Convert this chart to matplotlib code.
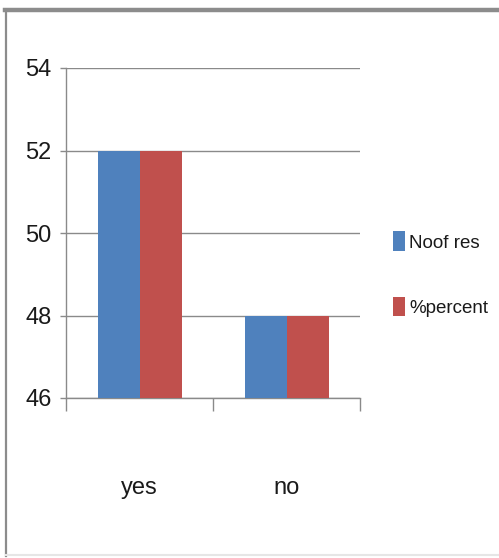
import matplotlib
matplotlib.use("Agg")
import matplotlib.pyplot as plt
from matplotlib.patches import Patch
from matplotlib.lines import Line2D
import numpy as np

plt.rcParams['font.family'] = ['Liberation Sans Narrow', 'Liberation Sans', 'DejaVu Sans']

categories = ["yes", "no"]
series_names = ["Noof res", "%percent"]
no_of_res = [52, 48]
percent = [52, 48]
y_ticks = [46, 48, 50, 52, 54]

BLUE = "#4F81BD"
RED = "#C0504D"
GRID = "#8a8a8a"
TEXT = "#1a1a1a"

W, H = 499, 558
fig = plt.figure(figsize=(W / 100, H / 100), dpi=100)

# plot area in pixel coordinates
left, right, top, bottom = 66, 360, 68, 398
ax = fig.add_axes([left / W, 1 - bottom / H, (right - left) / W, (bottom - top) / H])

x = np.arange(len(categories)) + 0.5
bw = 1 / 3.5
ax.bar(x - bw / 2, no_of_res, width=bw, color=BLUE, zorder=3)
ax.bar(x + bw / 2, percent, width=bw, color=RED, zorder=3)

ax.set_xlim(0, len(categories))
ax.set_ylim(y_ticks[0], y_ticks[-1])
ax.set_yticks(y_ticks)
ax.set_yticklabels([str(t) for t in y_ticks])
ax.yaxis.grid(True, color=GRID, linewidth=1.0, zorder=0)
ax.tick_params(axis='y', length=4.5, width=1.0, color=GRID, pad=6, labelsize=17, labelcolor=TEXT)

ax.set_xticks(x)
ax.set_xticklabels(categories)
ax.tick_params(axis='x', length=0, pad=57, labelsize=17, labelcolor=TEXT)
ax.set_xticks(np.arange(len(categories) + 1), minor=True)
ax.tick_params(axis='x', which='minor', length=9, width=1.0, color=GRID)

for side in ("top", "right"):
    ax.spines[side].set_visible(False)
for side in ("left", "bottom"):
    ax.spines[side].set_color(GRID)
    ax.spines[side].set_linewidth(1.0)

handles = [Patch(facecolor=BLUE, edgecolor="none"), Patch(facecolor=RED, edgecolor="none")]
fig.legend(handles, series_names, loc="center left",
           bbox_to_anchor=(384 / W, 1 - 274 / H), frameon=False, borderpad=0,
           fontsize=13.5, handlelength=0.6, handleheight=1.25, handletextpad=0.25,
           labelspacing=2.4, labelcolor=TEXT)

# outer frame
fig.add_artist(Line2D([5 / W, 1], [1 - 10 / H, 1 - 10 / H], transform=fig.transFigure,
                      color="#8c8c8c", linewidth=3.2))
fig.add_artist(Line2D([6 / W, 6 / W], [1 - 10 / H, 1 - 556 / H], transform=fig.transFigure,
                      color="#8c8c8c", linewidth=1.6))
fig.add_artist(Line2D([6 / W, 1], [1 - 555 / H, 1 - 555 / H], transform=fig.transFigure,
                      color="#e6e6e6", linewidth=1.5))

fig.savefig("out.png", dpi=100)
